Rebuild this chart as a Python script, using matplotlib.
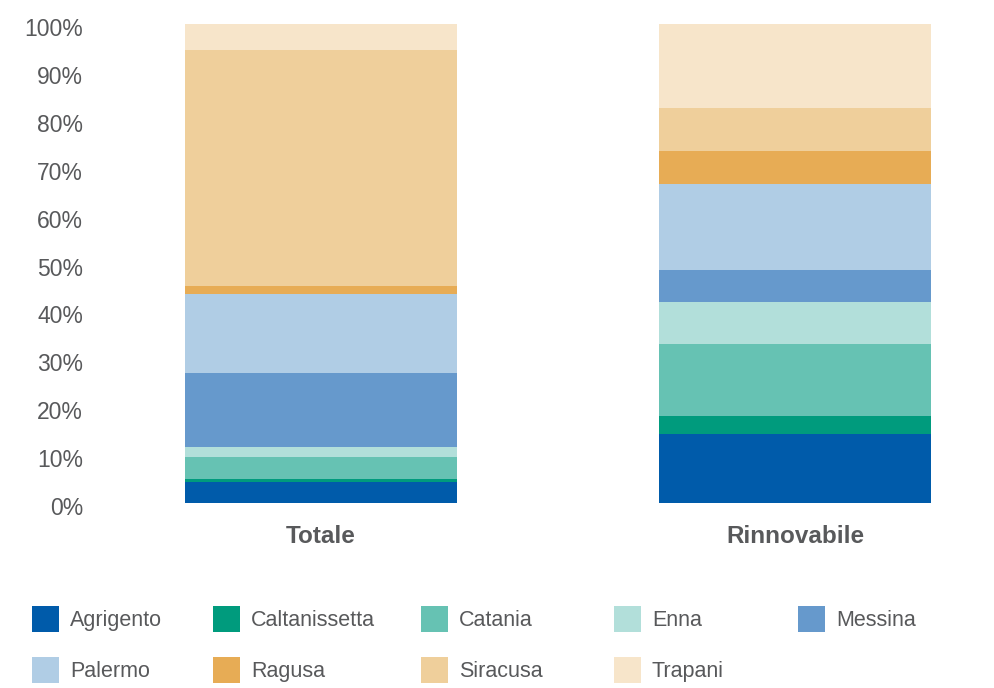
import matplotlib.pyplot as plt
import matplotlib.transforms as mtransforms
from matplotlib.patches import Rectangle

categories = ["Totale", "Rinnovabile"]
provinces = ["Agrigento", "Caltanissetta", "Catania", "Enna", "Messina",
             "Palermo", "Ragusa", "Siracusa", "Trapani"]
totale = [4.4, 0.7, 4.5, 2.0, 15.6, 16.4, 1.7, 49.3, 5.4]
rinnovabile = [14.5, 3.7, 15.0, 8.7, 6.8, 17.9, 6.9, 9.0, 17.5]
colors = ["#005BAA", "#009B7D", "#66C2B3", "#B2DFDA", "#6699CC",
          "#B0CDE5", "#E7AC55", "#EFCF9B", "#F7E5CA"]
yticks = list(range(0, 101, 10))

W, H = 995, 688
txt = "#58595B"
plt.rcParams['font.family'] = ['Liberation Sans', 'DejaVu Sans']

fig = plt.figure(figsize=(W / 100, H / 100), dpi=100)
# axes placed in pixels: left 90, right 995, 0% at y=503, 100% at y=24
ax = fig.add_axes([90 / W, 1 - 503 / H, (W - 90) / W, 479 / H])
ax.set_ylim(0, 100)
ax.set_xlim(-(321 - 90) / 474, (W - 321) / 474)

bottom = [0, 0]
for i, name in enumerate(provinces):
    vals = [totale[i], rinnovabile[i]]
    ax.bar([0, 1], vals, bottom=bottom, width=272 / 474,
           color=colors[i], label=name, linewidth=0)
    bottom = [b + v for b, v in zip(bottom, vals)]

for s in ax.spines.values():
    s.set_visible(False)
ax.set_yticks(yticks)
ax.set_yticklabels([f"{t}%" for t in yticks], fontsize=16.5, color=txt)
ax.set_xticks([0, 1])
ax.set_xticklabels(categories, fontsize=17.5, fontweight='bold', color=txt)
ax.tick_params(axis='y', length=0, pad=5)
ax.tick_params(axis='x', length=0, pad=16)

# tick labels sit a few pixels below their gridline value in the reference
shift = mtransforms.ScaledTranslation(0, -3 / 100, fig.dpi_scale_trans)
for lab in ax.get_yticklabels():
    lab.set_transform(lab.get_transform() + shift)

# legend, drawn by hand to keep the uneven column positions
col_x = [32, 213, 421, 614, 798]
row_y = [606, 657]
for i, name in enumerate(provinces):
    r, c = divmod(i, 5)
    x0, y0 = col_x[c], row_y[r]
    fig.add_artist(Rectangle((x0 / W, 1 - (y0 + 26) / H), 27 / W, 26 / H,
                             transform=fig.transFigure, color=colors[i], lw=0))
    fig.text((x0 + 38) / W, 1 - (y0 + 20) / H, name, fontsize=15.5,
             color=txt, va='baseline', ha='left')

fig.savefig("out.png", dpi=100, facecolor="white")
